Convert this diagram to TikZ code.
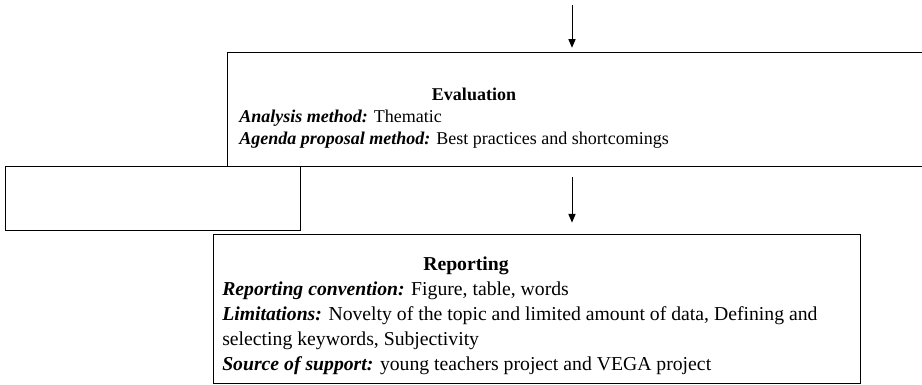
\documentclass[tikz,border=0pt]{standalone}
\usepackage{fontspec}
\setmainfont{Liberation Serif}
\usetikzlibrary{positioning,arrows.meta}

\tikzset{
  box/.style={rectangle, draw, line width=1pt, inner sep=0pt, anchor=north west},
  arr/.style={-{Triangle[width=5pt,length=6pt]}, line width=0.7pt},
  txt/.style={anchor=base west, inner sep=0pt},
  ttl/.style={anchor=base, inner sep=0pt},
  evalfont/.style={font=\fontsize{12.6}{15}\selectfont},
  repfont/.style={font=\fontsize{13.8}{16}\selectfont}
}
\newcommand{\lbl}[1]{\textbf{\textit{#1}}}

\begin{document}
\begin{tikzpicture}[x=0.7pt, y=-0.7pt]
\useasboundingbox (0,0) rectangle (922,385);
\clip (0,0) rectangle (922,385);

% boxes
\node (eval) [box, minimum width=713*0.7pt, minimum height=114*0.7pt] at (227,52) {};
\node (empty) [box, minimum width=295*0.7pt, minimum height=64*0.7pt] at (5,166) {};
\node (report) [box, minimum width=647*0.7pt, minimum height=149*0.7pt] at (213,234) {};

% evaluation text
\node (evaltitle) [ttl, evalfont] at (474,101) {\textbf{Evaluation}};
\node (analysis) [txt, evalfont] at (239,123) {\lbl{Analysis method:} Thematic};
\node (agenda) [txt, evalfont] at (239,145) {\lbl{Agenda proposal method:} Best practices and shortcomings};

% reporting text
\node (reptitle) [ttl, repfont] at (466,271) {\textbf{Reporting}};
\node (convention) [txt, repfont] at (222,296) {\lbl{Reporting convention:} Figure, table, words};
\node (limits) [txt, repfont] at (222,321) {\lbl{Limitations:} Novelty of the topic and limited amount of data, Defining and};
\node (limits2) [txt, repfont] at (222,346) {selecting keywords, Subjectivity};
\node (support) [txt, repfont] at (222,371) {\lbl{Source of support:} young teachers project and VEGA project};

% arrows
\coordinate (in) at (572,5);
\draw [arr, shorten >=3pt] (in) -- (in |- eval.north);
\draw [arr, shorten <=7pt, shorten >=8pt] (eval.south -| in) -- (report.north -| in);
\end{tikzpicture}
\end{document}
